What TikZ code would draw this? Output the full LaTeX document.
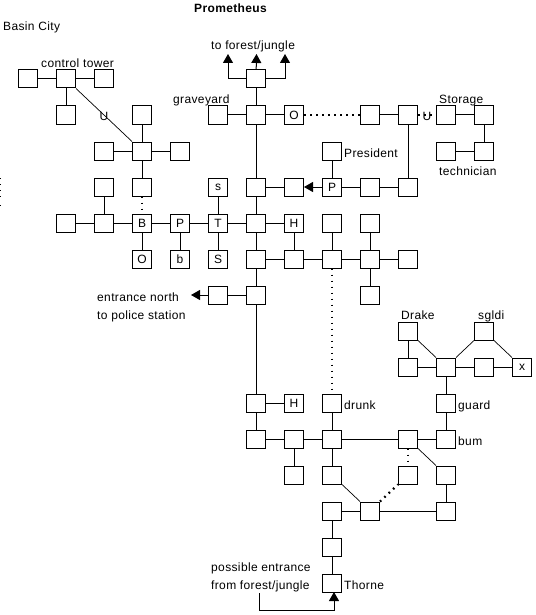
\documentclass[tikz,border=0pt]{standalone}
\usepackage{fontspec}
\setmainfont{Liberation Sans}[LetterSpace=3]
\usetikzlibrary{arrows.meta}
\tikzset{
  x=1pt,y=-1pt,
  room/.style={draw,fill=white,line width=1pt,minimum width=19pt,minimum height=18pt,inner sep=0pt,font=\fontsize{12}{12}\selectfont},
  conn/.style={line width=1pt},
  diag/.style={line width=0.7pt},
  dots/.style={line width=1.7pt,dash pattern=on 1.7pt off 4.3pt},
  tip/.style={line width=1pt,-{Triangle[width=10pt,length=9pt]}},
  lbl/.style={anchor=base west,inner sep=0pt,font=\fontsize{12}{12}\selectfont}
}
\newcommand{\rb}[3][]{\node[room] (n#2x#3) at ({28+38*#2},{79+36*#3}) {#1};}
\begin{document}
\begin{tikzpicture}
\useasboundingbox (0,0) rectangle (535,615);
% rooms
\rb{0}{0}\rb{1}{0}\rb{2}{0}\rb{6}{0}
\rb{1}{1}\rb{3}{1}\rb{5}{1}\rb{6}{1}\rb[O]{7}{1}\rb{9}{1}\rb{10}{1}\rb{11}{1}\rb{12}{1}
\rb{2}{2}\rb{3}{2}\rb{4}{2}\rb{8}{2}\rb{11}{2}\rb{12}{2}
\rb{2}{3}\rb{3}{3}\rb[s]{5}{3}\rb{6}{3}\rb{7}{3}\rb[P]{8}{3}\rb{9}{3}\rb{10}{3}
\rb{1}{4}\rb{2}{4}\rb[B]{3}{4}\rb[P]{4}{4}\rb[T]{5}{4}\rb{6}{4}\rb[H]{7}{4}\rb{8}{4}\rb{9}{4}
\rb[O]{3}{5}\rb[b]{4}{5}\rb[S]{5}{5}\rb{6}{5}\rb{7}{5}\rb{8}{5}\rb{9}{5}\rb{10}{5}
\rb{5}{6}\rb{6}{6}\rb{9}{6}
\rb{10}{7}\rb{12}{7}
\rb{10}{8}\rb{11}{8}\rb{12}{8}\rb[x]{13}{8}
\rb{6}{9}\rb[H]{7}{9}\rb{8}{9}\rb{11}{9}
\rb{6}{10}\rb{7}{10}\rb{8}{10}\rb{10}{10}\rb{11}{10}
\rb{7}{11}\rb{8}{11}\rb{10}{11}\rb{11}{11}
\rb{8}{12}\rb{9}{12}\rb{11}{12}
\rb{8}{13}
\rb{8}{14}
% free ends
\coordinate (af1) at (228,54);
\coordinate (af2) at (256.5,54);
\coordinate (af3) at (285,54);
\coordinate (apn) at (191,295);
\coordinate (es) at (259,593);
\coordinate (es1) at (259,610);
\coordinate (es2) at (334,610);
\coordinate (es3) at (334,592);
% connectors
\foreach \a/\b in {
 n0x0/n1x0,n1x0/n2x0,n1x0/n1x1,
 n3x1/n3x2,n2x2/n3x2,n3x2/n4x2,n3x2/n3x3,n2x3/n2x4,
 n1x4/n2x4,n2x4/n3x4,n3x4/n4x4,n4x4/n5x4,n5x4/n6x4,n3x4/n3x5,n4x4/n4x5,n5x3/n5x4,n5x4/n5x5,
 n6x0/n6x1,n6x1/n6x3,n6x3/n6x4,n6x4/n6x5,n6x5/n6x6,n6x6/n6x9,n6x9/n6x10,
 n5x1/n6x1,n6x1/n7x1,n9x1/n10x1,n11x1/n12x1,n12x1/n12x2,n11x2/n12x2,n10x1/n10x3,
 n6x3/n7x3,n8x2/n8x3,n8x3/n9x3,n9x3/n10x3,
 n6x4/n7x4,n7x4/n7x5,n6x5/n7x5,n7x5/n8x5,n8x5/n9x5,n9x5/n10x5,n8x4/n8x5,n9x4/n9x5,n9x5/n9x6,
 n5x6/n6x6,
 n10x7/n10x8,n10x8/n11x8,n11x8/n12x8,n12x8/n13x8,n11x8/n11x9,n11x9/n11x10,n10x10/n11x10,n8x10/n10x10,
 n11x11/n11x12,n9x12/n11x12,n8x12/n9x12,
 n8x9/n8x10,n8x10/n8x11,n6x10/n7x10,n7x10/n8x10,n7x10/n7x11,n6x9/n7x9,n8x12/n8x13,n8x13/n8x14}
 {\draw[conn] (\a) -- (\b);}
\draw[diag] (n1x0.south east) -- (n3x2.north west);
\draw[diag] (n10x7.south east) -- (n11x8.north west);
\draw[diag] (n11x8.north east) -- (n12x7.south west);
\draw[diag] (n12x7.south east) -- (n13x8.north west);
\draw[diag] (n10x10.south east) -- (n11x11.north west);
\draw[diag] (n8x11.south east) -- (n9x12.north west);
% dotted
\draw[dots] (n3x3) -- (n3x4);
\draw[dots] (n7x1) -- (n9x1);
\draw[dots] (n10x1) -- (n11x1);
\draw[dots] (n8x5) -- (n8x9);
\draw[dots] (n10x10) -- (n10x11);
\draw[dots,line width=2.2pt] (n9x12.north east) -- (n10x11.south west);
% arrows
\draw[tip] (n6x0) -| (af1);
\draw[tip] (n6x0) -- (af2);
\draw[tip] (n6x0) -| (af3);
\draw[tip] (n8x3) -- (n7x3);
\draw[tip] (n5x6) -- (apn);
\draw[tip] (es) -- (es1) -- (es2) -- (es3);
% labels
\node[anchor=base,inner sep=0pt,font=\bfseries\fontsize{12}{12}\selectfont] (t0) at (230.5,12.5) {Prometheus};
\node[lbl] (t1) at (3,31) {Basin City};
\node[lbl] (t2) at (211,49.5) {to forest/jungle};
\node[lbl] (t3) at (41,67.5) {control tower};
\node[lbl] (t4) at (173,103) {graveyard};
\node[lbl] (t5) at (439,103) {Storage};
\node[lbl] (t6) at (344,157) {President};
\node[lbl] (t7) at (439,175) {technician};
\node[lbl] (t8) at (401,319) {Drake};
\node[lbl] (t9) at (478,319) {sgldi};
\node[lbl] (t10) at (344,409) {drunk};
\node[lbl] (t11) at (458,409) {guard};
\node[lbl] (t12) at (458,445) {bum};
\node[lbl] (t13) at (344,589) {Thorne};
\node[lbl] (t14) at (97,301) {entrance north};
\node[lbl] (t15) at (97,319) {to police station};
\node[lbl] (t16) at (211,571.5) {possible entrance};
\node[lbl] (t17) at (211,589.5) {from forest/jungle};
\node[lbl,anchor=base] (u1) at (104,121) {U};
\node[lbl,anchor=base] (u2) at (427,121) {U};
\foreach \yy in {178,184,190,196,205} \fill (0,\yy) rectangle (1,\yy+1);
\end{tikzpicture}
\end{document}
